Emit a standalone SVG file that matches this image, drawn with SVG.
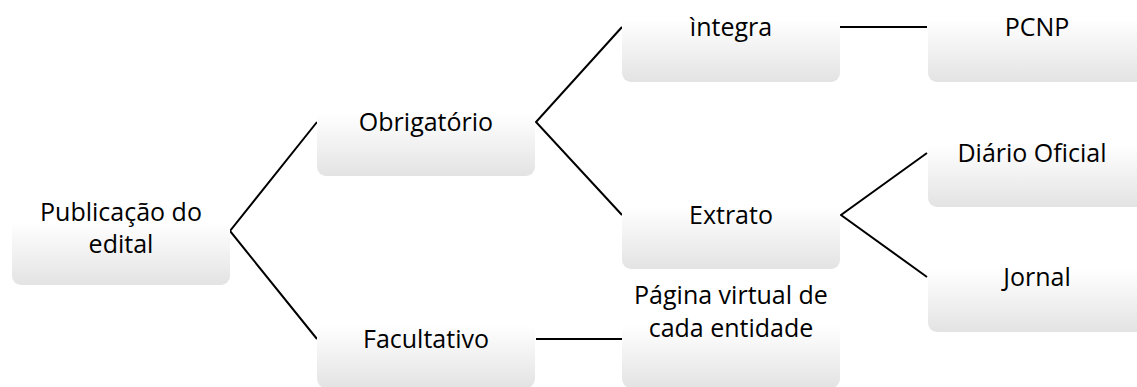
<svg xmlns="http://www.w3.org/2000/svg" width="1137" height="387" viewBox="0 0 1137 387">
  <defs>
    <linearGradient id="boxFill" x1="0" y1="0" x2="0" y2="1">
      <stop offset="0" stop-color="#ffffff"/>
      <stop offset="0.42" stop-color="#ffffff"/>
      <stop offset="1" stop-color="#e3e3e3"/>
    </linearGradient>
    <style>
      .box { fill: url(#boxFill); stroke: none; }
      .lbl { font-family: "Open Sans", "Noto Sans", sans-serif; font-size: 25px; fill: #000; text-anchor: middle; }
      .conn { stroke: #000; stroke-width: 2; fill: none; }
    </style>
  </defs>
  <rect width="1137" height="387" fill="#ffffff"/>

  <g id="connectors">
    <polyline class="conn" points="317,122 230,231 317,339"/>
    <polyline class="conn" points="622,27 536,122 622,215"/>
    <line class="conn" x1="840" y1="27" x2="927" y2="27"/>
    <line class="conn" x1="536" y1="339" x2="622" y2="339"/>
    <polyline class="conn" points="927,153 841,215 927,277"/>
  </g>

  <g id="node-publicacao">
    <rect class="box" x="12" y="177" width="218" height="108" rx="9"/>
    <text class="lbl" x="121" y="221">Publicação do</text>
    <text class="lbl" x="121" y="253">edital</text>
  </g>

  <g id="node-obrigatorio">
    <rect class="box" x="317" y="68" width="218" height="108" rx="9"/>
    <text class="lbl" x="426" y="131">Obrigatório</text>
  </g>

  <g id="node-facultativo">
    <rect class="box" x="317" y="280" width="218" height="108" rx="9"/>
    <text class="lbl" x="426" y="348">Facultativo</text>
  </g>

  <g id="node-integra">
    <rect class="box" x="622" y="-26" width="218" height="108" rx="9"/>
    <text class="lbl" x="731" y="36">ìntegra</text>
  </g>

  <g id="node-extrato">
    <rect class="box" x="622" y="161" width="218" height="108" rx="9"/>
    <text class="lbl" x="731" y="224">Extrato</text>
  </g>

  <g id="node-pagina">
    <rect class="box" x="622" y="280" width="218" height="108" rx="9"/>
    <text class="lbl" x="731" y="304">Página virtual de</text>
    <text class="lbl" x="731" y="337">cada entidade</text>
  </g>

  <g id="node-pcnp">
    <rect class="box" x="928" y="-26" width="218" height="108" rx="9"/>
    <text class="lbl" x="1037" y="36">PCNP</text>
  </g>

  <g id="node-diario">
    <rect class="box" x="928" y="99" width="218" height="108" rx="9"/>
    <text class="lbl" x="1032" y="162">Diário Oficial</text>
  </g>

  <g id="node-jornal">
    <rect class="box" x="928" y="224" width="218" height="108" rx="9"/>
    <text class="lbl" x="1037" y="286">Jornal</text>
  </g>
</svg>
